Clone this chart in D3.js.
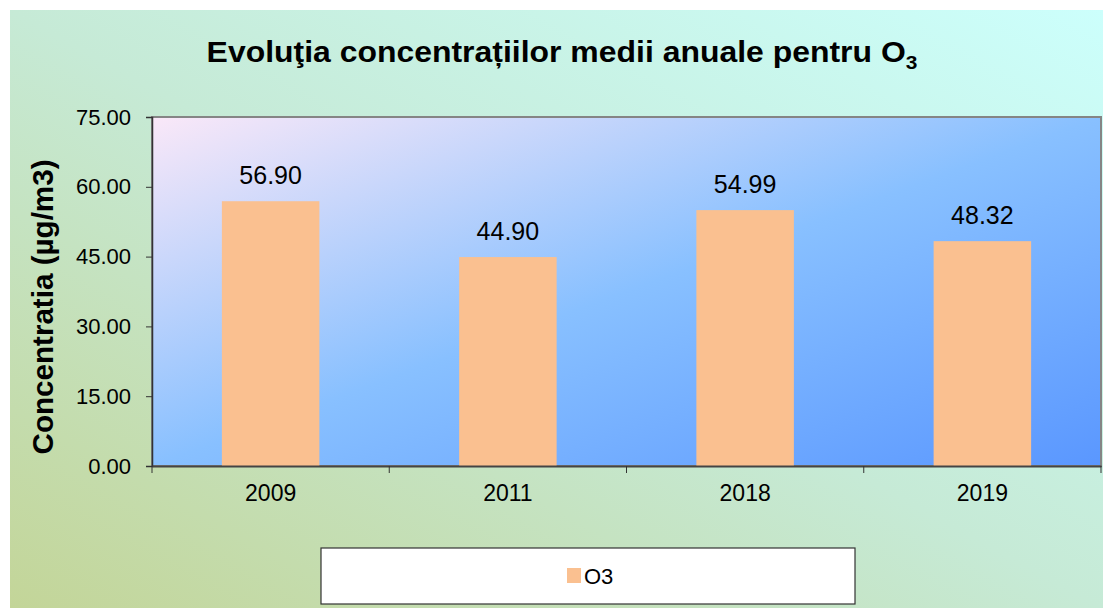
<!DOCTYPE html>
<html>
<head>
<meta charset="utf-8">
<script src="https://cdn.jsdelivr.net/npm/d3@7"></script>
<style>
  html, body { margin: 0; padding: 0; background: #fff; }
  svg { display: block; font-family: Arial, "Liberation Sans", sans-serif; }
</style>
</head>
<body>
<div id="chart"></div>
<script>
// data
const years = ["2009", "2011", "2018", "2019"];
const o3 = [56.90, 44.90, 54.99, 48.32];
const yTicks = [0, 15, 30, 45, 60, 75];
const seriesName = "O3";

const width = 1103, height = 608;
const plotL = 152, plotR = 1101, plotT = 117, plotB = 466;

const svg = d3.select("#chart").append("svg")
    .attr("width", width)
    .attr("height", height);

const defs = svg.append("defs");

// chart area background: green at bottom-left, cyan at top-right
const bg = defs.append("linearGradient").attr("id", "bg")
    .attr("x1", 0).attr("y1", 1).attr("x2", 1).attr("y2", 0);
bg.append("stop").attr("offset", 0).attr("stop-color", "#c3d598");
bg.append("stop").attr("offset", 0.5).attr("stop-color", "#c6ead6");
bg.append("stop").attr("offset", 1).attr("stop-color", "#ccfffc");

// plot area: lavender top-left to blue bottom-right
const pg = defs.append("linearGradient").attr("id", "plotbg")
    .attr("x1", 0).attr("y1", 0).attr("x2", 1).attr("y2", 1);
pg.append("stop").attr("offset", 0).attr("stop-color", "#fae8f8");
pg.append("stop").attr("offset", 0.5).attr("stop-color", "#88c0ff");
pg.append("stop").attr("offset", 1).attr("stop-color", "#5a97ff");

svg.append("rect")
    .attr("x", 10).attr("y", 10)
    .attr("width", width - 10).attr("height", height - 10)
    .attr("fill", "url(#bg)");

// scales
const x = d3.scaleBand()
    .domain(years)
    .range([plotL, plotR])
    .paddingInner(0.589)
    .paddingOuter(0.2945);

const y = d3.scaleLinear()
    .domain([0, 75])
    .range([plotB, plotT]);

// plot area
svg.append("rect")
    .attr("x", plotL).attr("y", plotT)
    .attr("width", plotR - plotL).attr("height", plotB - plotT)
    .attr("fill", "url(#plotbg)")
    .attr("stroke", "#858585")
    .attr("stroke-width", 2);

// bars
svg.append("g")
  .selectAll("rect")
  .data(o3)
  .enter()
  .append("rect")
    .attr("x", (d, i) => x(years[i]))
    .attr("y", d => y(d))
    .attr("width", x.bandwidth())
    .attr("height", d => y(0) - y(d))
    .attr("fill", "#fac090");

// value labels
svg.append("g")
  .selectAll("text")
  .data(o3)
  .enter()
  .append("text")
    .attr("x", (d, i) => x(years[i]) + x.bandwidth() / 2)
    .attr("y", d => y(d) - 17)
    .attr("text-anchor", "middle")
    .attr("font-size", 25)
    .attr("fill", "#000")
    .text(d => d.toFixed(2));

// y axis
const yAxis = svg.append("g")
    .attr("transform", "translate(" + plotL + ",0)")
    .call(d3.axisLeft(y)
      .tickValues(yTicks)
      .tickSize(6)
      .tickPadding(15)
      .tickFormat(d3.format(".2f")));
yAxis.select(".domain").attr("stroke", "#333").attr("stroke-width", 1.5);
yAxis.selectAll(".tick line").attr("stroke", "#333");
yAxis.selectAll(".tick text")
    .attr("font-size", 22)
    .attr("font-family", "Arial, 'Liberation Sans', sans-serif")
    .attr("fill", "#000");

// x axis: labels under bars, ticks at category boundaries
const xAxis = svg.append("g")
    .attr("transform", "translate(0," + plotB + ")")
    .call(d3.axisBottom(x).tickSize(0).tickPadding(19));
xAxis.select(".domain").attr("stroke", "#444").attr("stroke-width", 2);
xAxis.selectAll(".tick text")
    .attr("font-size", 23)
    .attr("font-family", "Arial, 'Liberation Sans', sans-serif")
    .attr("fill", "#000");
xAxis.selectAll(".bound")
  .data(d3.range(years.length + 1))
  .enter()
  .append("line")
    .attr("class", "bound")
    .attr("x1", i => plotL + i * x.step())
    .attr("x2", i => plotL + i * x.step())
    .attr("y1", 0).attr("y2", 7)
    .attr("stroke", "#333");

// title
const title = svg.append("text")
    .attr("x", 562).attr("y", 62)
    .attr("text-anchor", "middle")
    .attr("font-size", 29)
    .attr("font-weight", "bold")
    .attr("fill", "#000");
title.append("tspan").text("Evoluţia concentrațiilor medii anuale pentru O");
title.append("tspan").attr("dy", 7).attr("font-size", 19).text("3");
const tw = title.node().getBBox().width;
const sx = 711 / tw;
title.attr("transform", "translate(562,0) scale(" + sx + ",1) translate(-562,0)");

// y axis title
svg.append("text")
    .attr("transform", "translate(53,307) rotate(-90)")
    .attr("text-anchor", "middle")
    .attr("font-size", 30)
    .attr("font-weight", "bold")
    .attr("textLength", 295)
    .attr("lengthAdjust", "spacingAndGlyphs")
    .attr("fill", "#000")
    .text("Concentratia (µg/m3)");

// legend
const legend = svg.append("g");
legend.append("rect")
    .attr("x", 321).attr("y", 548)
    .attr("width", 534).attr("height", 56)
    .attr("fill", "#fff")
    .attr("stroke", "#333")
    .attr("stroke-width", 1.2);
legend.append("rect")
    .attr("x", 567).attr("y", 568)
    .attr("width", 14).attr("height", 15)
    .attr("fill", "#fac090");
legend.append("text")
    .attr("x", 584).attr("y", 584)
    .attr("font-size", 22)
    .attr("fill", "#000")
    .text(seriesName);
</script>
</body>
</html>
